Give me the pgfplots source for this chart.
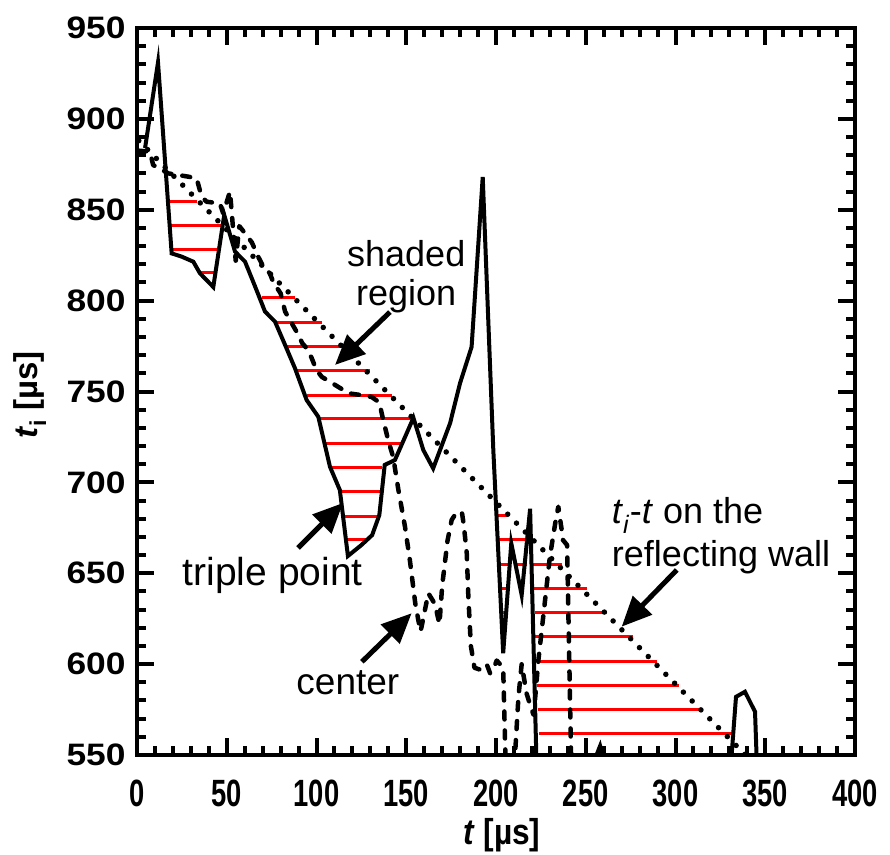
\documentclass[border=0pt]{standalone}
\usepackage{fontspec}
\setmainfont{Liberation Sans}
\usepackage{graphicx}
\usepackage{pgfplots}
\pgfplotsset{compat=1.18}
\usetikzlibrary{arrows.meta}
\newcommand\sx[1]{\scalebox{0.72}[1]{#1}}
\newcommand\sy[1]{\scalebox{1.14}[1]{#1}}
\begin{document}
\begin{tikzpicture}
\begin{axis}[name=ax, scale only axis, width=718pt, height=727pt,
  xmin=0, xmax=400, ymin=550, ymax=950,
  xtick={0,50,...,400}, ytick={550,600,...,950},
  xticklabels={\sx{0},\sx{50},\sx{100},\sx{150},\sx{200},\sx{250},\sx{300},\sx{350},\sx{400}},
  yticklabels={\sy{550},\sy{600},\sy{650},\sy{700},\sy{750},\sy{800},\sy{850},\sy{900},\sy{950}},
  minor x tick num=4, minor y tick num=4,
  tick align=inside,
  major tick length=17pt, minor tick length=9pt,
  tick style={line width=4pt, black},
  axis line style={line width=4.5pt},
  xticklabel style={font=\fontsize{38}{44}\selectfont\bfseries, yshift=-21pt},
  yticklabel style={font=\fontsize{31}{36}\selectfont\bfseries, xshift=-8pt},
  xlabel={\scalebox{0.88}[1]{\textbf{\textit{t}} \textbf{[µs]}}},
  ylabel={\textbf{\textit{t}\textsubscript{i}} \textbf{[µs]}},
  xlabel style={font=\fontsize{36}{40}\selectfont, at={(axis description cs:0.508,-0.11)}, anchor=center},
  ylabel style={font=\fontsize{33}{38}\selectfont, at={(axis description cs:-0.149,0.495)}, anchor=center},
  unbounded coords=jump,
  clip=true,
]
% hatching
\addplot[red, line width=3pt] coordinates {
(17.2,854.3)(33.5,854.3)(nan,nan)
(18.4,841.6)(47.2,841.6)(nan,nan)
(18.5,828.4)(46.0,828.4)(nan,nan)
(34.7,815.2)(43.5,815.2)(nan,nan)
(69.5,801.6)(88,801.6)(nan,nan)
(77.8,787.9)(102.9,787.9)(nan,nan)
(83.4,774.7)(114,774.7)(nan,nan)
(89,761.4)(129.8,761.4)(nan,nan)
(94.5,748.0)(141.9,748.0)(nan,nan)
(100.5,734.9)(154.3,734.9)(nan,nan)
(103.8,721.5)(148,721.5)(nan,nan)
(107.5,708.1)(136.3,708.1)(nan,nan)
(113.5,694.9)(135.4,694.9)(nan,nan)
(114.8,681.5)(134.8,681.5)(nan,nan)
(116.4,668.3)(129,668.3)(nan,nan)
(200.7,681.6)(206.8,681.6)(nan,nan)
(201.3,668.3)(217,668.3)(nan,nan)
(202.2,654.7)(207.8,654.7)(nan,nan)
(210.6,654.7)(217,654.7)(nan,nan)
(220.8,654.7)(236.6,654.7)(nan,nan)
(203.2,641.4)(206,641.4)(nan,nan)
(220.8,641.4)(250.5,641.4)(nan,nan)
(203.2,628.3)(206,628.3)(nan,nan)
(221.6,628.3)(262.1,628.3)(nan,nan)
(221.7,615.1)(276.5,615.1)(nan,nan)
(222.7,601.7)(289.5,601.7)(nan,nan)
(223,588.1)(302,588.1)(nan,nan)
(223.6,574.8)(315.5,574.8)(nan,nan)
(224.1,561.7)(331.3,561.7)
};
% reflecting wall (dotted)
\addplot[black, line width=5.5pt, line cap=round, dash pattern=on 0pt off 12.5pt] coordinates {
(1,888) (345,544)
};
% center (dashed)
\addplot[black, line width=4.5pt, line cap=round, line join=round, dash pattern=on 8pt off 11pt] coordinates {
(0.7,882.5) (7.2,882) (9,874.6) (17.5,870) (28.6,868.2) (33.2,867.3) (36,857.2) (38.8,854.4)
(46.2,853.5) (48,848) (51.8,860) (55,822) (57,841) (60.2,837) (64,832) (67.6,824) (70.4,818.7)
(74,815) (76,810) (80,804) (82.5,794) (90,781) (92,776.7) (95.3,772.8) (97.3,768.4) (100,761.8)
(103,758) (107.5,755.4) (112,752.6) (118,749) (125,748) (130.7,747) (135,744) (137,735) (140,723)
(142.7,714) (145.6,696) (149.3,675.6) (152,657.3) (155,633.6) (156.7,624.3) (158,618) (162.3,639)
(166,633) (168.5,622) (170,643) (173,668) (175.3,679.3) (178,683.5) (181,683.5) (182,677)
(183.7,661) (184.6,637) (186,610) (188,598) (191,597) (194.8,600) (196.7,595) (198.4,597)
(200.4,602) (204,598) (205.5,540) (210,540) (212.5,582) (214.3,600) (217,584) (219.8,575)
(221,572) (223.6,602) (230,659) (233,677.5) (234.7,686.6) (236.6,673.8) (237.3,668.3)
(239.6,665.5) (242,540)
};
% triple point (solid)
\addplot[black, line width=4pt] coordinates {
(4.5,884) (11.7,931) (19.3,826) (24.9,824.2) (31.4,821.4) (35.1,815) (42.5,807.5) (48.6,847.1)
(54.6,827) (60.2,821.4) (65.7,808) (71.3,794) (76.9,788.4) (82.5,775.6) (88,762.8) (94.5,745.3)
(101,736.1) (107.5,708.6) (113,695.8) (117.5,659.5) (125,665.5) (131,671) (135,682) (138,709.6)
(143.7,712.3) (154,735.5) (159.5,717.8) (165,707.7) (174.4,732.5) (180,754.7) (186.4,774.5)
(192.6,868) (198.5,717.8) (204,606) (208.5,666.5) (214.3,638) (219,685.5) (222.7,540)
(252,540) (258,555) (262,540) (330.5,540) (333.7,582) (338.7,584.8) (344.3,573.8) (345.5,540)
};
% annotations
\node[align=center, font=\fontsize{36}{39}\selectfont] at (axis cs:150,813) {shaded\\region};
\draw[line width=5pt, -{Triangle[length=30pt,width=26pt]}] (axis cs:140.9,793.7) -- (axis cs:110.3,764.6);
\node[font=\fontsize{39}{42}\selectfont] at (axis cs:75.6,649) {triple point};
\draw[line width=5pt, -{Triangle[length=30pt,width=26pt]}] (axis cs:89.7,663.9) -- (axis cs:114.8,688.7);
\node[font=\fontsize{37}{40}\selectfont] at (axis cs:117.5,589.6) {center};
\draw[line width=5pt, -{Triangle[length=30pt,width=26pt]}] (axis cs:125.3,601.3) -- (axis cs:153,628);
\node[align=left, anchor=west, font=\fontsize{36}{43}\selectfont, inner sep=0pt] at (axis cs:264.5,670.5) {\textit{t}\textsubscript{\textit{i}}-\textit{t} on the\\reflecting wall};
\draw[line width=5pt, -{Triangle[length=30pt,width=26pt]}] (axis cs:300.7,651.8) -- (axis cs:270,620.6);
\end{axis}
\pgfresetboundingbox
\path (ax.south west) ++(-137pt,-99pt) rectangle ++(890pt,854pt);
\end{tikzpicture}
\end{document}
